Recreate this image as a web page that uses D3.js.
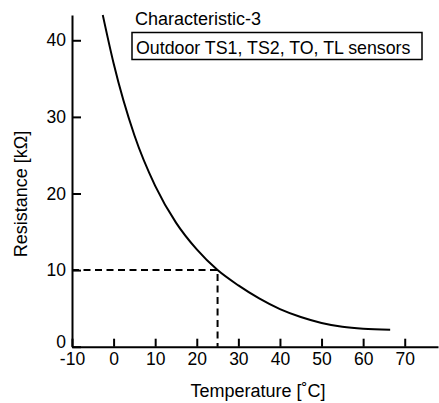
<!DOCTYPE html>
<html>
<head>
<meta charset="utf-8">
<script src="https://cdn.jsdelivr.net/npm/d3@7"></script>
<style>
  body { margin: 0; background: #fff; }
  svg { display: block; font-family: "Liberation Sans", Arial, sans-serif; }
</style>
</head>
<body>
<svg id="svg" width="439" height="403"></svg>
<script>
// curve: temperature [°C] -> resistance [kΩ]
const temps = [-2.6, 0, 5, 10, 15, 20, 25, 30, 35, 40, 45, 50, 55, 60, 66.5];
const resist = [43.3, 37.0, 27.6, 21.0, 16.2, 12.7, 10.0, 8.0, 6.3, 4.9, 3.87, 3.1, 2.6, 2.33, 2.2];
const xTicks = [-10, 0, 10, 20, 30, 40, 50, 60, 70];
const yTicks = [0, 10, 20, 30, 40];
const refPoint = [25, 10];

const svg = d3.select("#svg");

const x = d3.scaleLinear().domain([-10, 78]).range([72, 438]);
const y = d3.scaleLinear().domain([0, 43.3]).range([346.7, 15]);

// axes, ticks point inward
const xAxis = svg.append("g")
    .attr("transform", `translate(0, ${y(0)})`)
    .call(d3.axisBottom(x).tickValues(xTicks).tickFormat(d => String(d))
        .tickSizeInner(-8).tickSizeOuter(0).tickPadding(6));

const yAxis = svg.append("g")
    .attr("transform", `translate(${x(-10)}, 0)`)
    .call(d3.axisLeft(y).tickValues(yTicks).tickFormat(d => String(d))
        .tickSizeInner(-9).tickSizeOuter(0).tickPadding(6));

[xAxis, yAxis].forEach(g => {
    g.selectAll("path, line").attr("stroke", "#000").attr("stroke-width", 2);
    g.selectAll("text")
        .attr("font-family", "Liberation Sans, Arial, sans-serif")
        .attr("font-size", 17.5)
        .attr("fill", "#000");
});
xAxis.selectAll("text").attr("dy", "0.72em");
// keep the 0 label clear of the -10 label at the corner
yAxis.selectAll(".tick text").filter(d => d === 0).attr("y", -5);

// dashed guide at 25 °C / 10 kΩ
svg.append("path")
    .attr("d", `M${x(-10)},${y(refPoint[1])}H${x(refPoint[0])}V${y(0)}`)
    .attr("fill", "none")
    .attr("stroke", "#000")
    .attr("stroke-width", 2)
    .attr("stroke-dasharray", "7,4.5");

// the characteristic curve
const line = d3.line()
    .x((d, i) => x(temps[i]))
    .y(d => y(d))
    .curve(d3.curveMonotoneX);

svg.append("path")
    .attr("d", line(resist))
    .attr("fill", "none")
    .attr("stroke", "#000")
    .attr("stroke-width", 2);

// titles
svg.append("text")
    .attr("x", 135)
    .attr("y", 25)
    .attr("font-size", 18)
    .text("Characteristic-3");

svg.append("rect")
    .attr("x", 132)
    .attr("y", 32.5)
    .attr("width", 290)
    .attr("height", 27)
    .attr("fill", "none")
    .attr("stroke", "#000")
    .attr("stroke-width", 1.5);

svg.append("text")
    .attr("x", 136)
    .attr("y", 53.5)
    .attr("font-size", 17.8)
    .text("Outdoor TS1, TS2, TO, TL sensors");

svg.append("text")
    .attr("x", 258)
    .attr("y", 396.5)
    .attr("text-anchor", "middle")
    .attr("font-size", 18)
    .text("Temperature [˚C]");

svg.append("text")
    .attr("transform", "translate(27, 194) rotate(-90)")
    .attr("text-anchor", "middle")
    .attr("font-size", 18)
    .text("Resistance [kΩ]");
</script>
</body>
</html>
